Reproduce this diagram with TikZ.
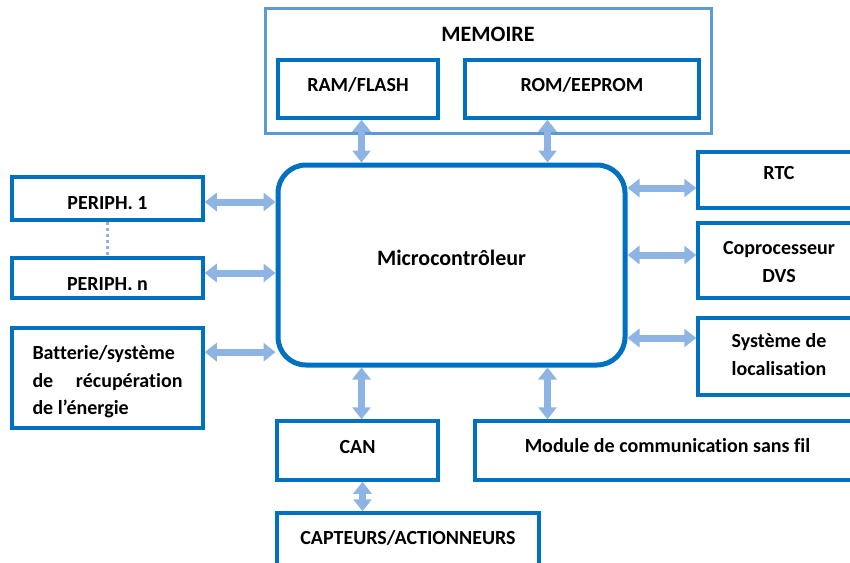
\documentclass[tikz,border=0pt]{standalone}
\usepackage{fontspec}
\setmainfont{Carlito}[Ligatures=NoCommon]
\usetikzlibrary{arrows.meta,calc}
\definecolor{dblue}{RGB}{0,112,192}
\definecolor{lblue}{RGB}{91,155,213}
\definecolor{ablue}{RGB}{141,180,226}
\tikzset{
  box/.style={draw=dblue, line width=3.5pt, fill=white, inner sep=0pt},
  outerbox/.style={draw=lblue, line width=3pt, inner sep=0pt},
  mcbox/.style={draw=dblue, line width=5pt, rounded corners=28pt, inner sep=0pt},
  lbl/.style={inner sep=0pt, font=\fontsize{20}{27.5}\selectfont\bfseries, align=center},
  biglbl/.style={lbl, font=\fontsize{22}{24}\selectfont\bfseries},
  arr/.style={line width=7pt, draw=ablue, {Triangle[width=18pt,length=12pt]}-{Triangle[width=18pt,length=12pt]}},
}
\begin{document}
\begin{tikzpicture}[x=1pt,y=-1pt]
\useasboundingbox (0,0) rectangle (850,562);
\clip (0,0) rectangle (850,562);
% memoire
\node[outerbox, minimum width=446, minimum height=125,
      label={[biglbl, yshift=36.5]center:MEMOIRE}] (mem) at (488,70.5) {};
\node[box, minimum width=160, minimum height=58, label={[lbl, yshift=4]center:RAM/FLASH}] (ram) at (358,89) {};
\node[box, minimum width=234, minimum height=58, label={[lbl, yshift=4]center:ROM/EEPROM}] (rom) at (582,89) {};
% microcontroleur
\node[mcbox, minimum width=347, minimum height=200, label={[biglbl, yshift=7]center:Microcontrôleur}] (mc) at (451.5,265) {};
% left
\node[box, minimum width=191, minimum height=43, label={[lbl, yshift=-5]center:PERIPH. 1}] (p1) at (107.5,198.5) {};
\node[box, minimum width=191, minimum height=40, label={[lbl, yshift=-6]center:PERIPH. n}] (pn) at (107.5,278) {};
\node[box, minimum width=191, minimum height=100,
      label={[lbl, align=left, yshift=-4]center:Batterie/système\\\hbox to 150pt{de\hfill récupération}\\de l’énergie}] (bat) at (107.5,378) {};
\draw[ablue, line width=3.5pt, dash pattern=on 3pt off 3pt] (p1.south) -- (pn.north);
% right
\node[box, minimum width=162, minimum height=56, label={[lbl, yshift=7]center:RTC}] (rtc) at (779,180) {};
\node[box, minimum width=162, minimum height=75, label={[lbl, yshift=-1.5]center:Coprocesseur\\DVS}] (cop) at (779,260.5) {};
\node[box, minimum width=162, minimum height=77, label={[lbl, yshift=2]center:Système de\\localisation}] (loc) at (779,356.5) {};
% bottom
\node[box, minimum width=161, minimum height=59, label={[lbl, yshift=3]center:CAN}] (can) at (357.5,450.5) {};
\node[box, minimum width=385, minimum height=59, label={[lbl, yshift=5]center:Module de communication sans fil}] (mod) at (667.5,450.5) {};
\node[box, minimum width=262, minimum height=60, label={[lbl, yshift=5]center:CAPTEURS/ACTIONNEURS}] (cap) at (408,543) {};
% arrow anchor points
\coordinate (batr) at ($(bat.north east)!0.25!(bat.south east)$);
% arrows
\draw[arr] ([xshift=-90]mc.north) -- ([xshift=-90]mc.north |- ram.south);
\draw[arr] ([xshift=96]mc.north) -- ([xshift=96]mc.north |- rom.south);
\draw[arr] ([xshift=-90]mc.south) -- ([xshift=-90]mc.south |- can.north);
\draw[arr] ([xshift=96]mc.south) -- ([xshift=96]mc.south |- mod.north);
\draw[arr] ([xshift=5]can.south) -- ([xshift=5]can.south |- cap.north);
\draw[arr] ([yshift=-3.5]p1.east) -- ([yshift=-3.5]p1.east -| mc.west);
\draw[arr] ([yshift=5]pn.east) -- ([yshift=5]pn.east -| mc.west);
\draw[arr] (batr) -- (batr -| mc.west);
\draw[arr] ([yshift=-8]rtc.west) -- ([yshift=-8]rtc.west -| mc.east);
\draw[arr] ([yshift=5.5]cop.west) -- ([yshift=5.5]cop.west -| mc.east);
\draw[arr] ([yshift=18.5]loc.west) -- ([yshift=18.5]loc.west -| mc.east);
\end{tikzpicture}
\end{document}
